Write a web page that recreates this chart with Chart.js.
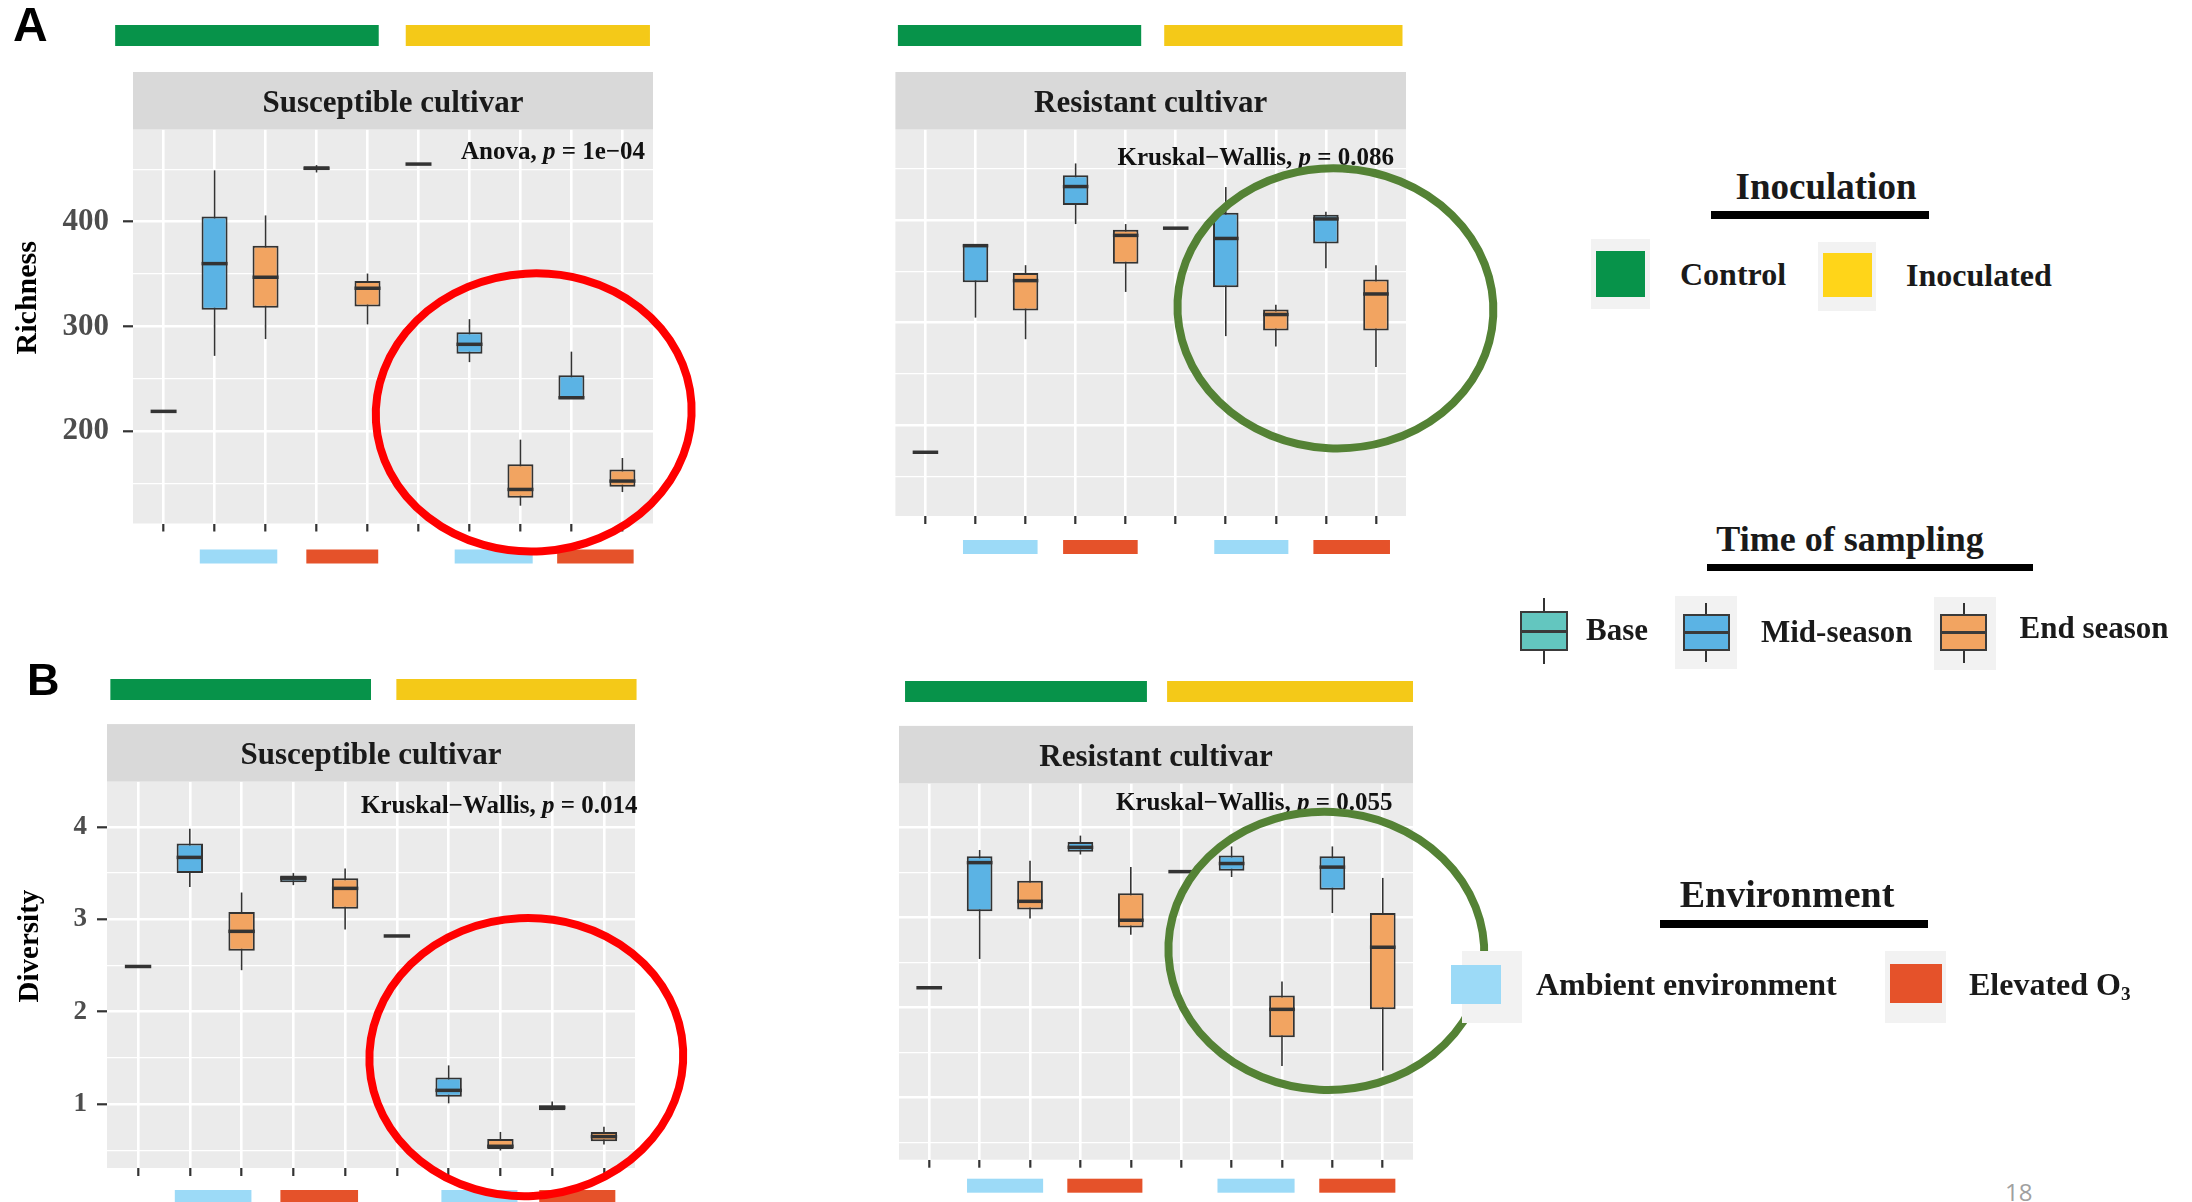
<!DOCTYPE html>
<html>
<head>
<meta charset="utf-8">
<script src="https://cdn.jsdelivr.net/npm/chart.js@4.4.1/dist/chart.umd.min.js"></script>
<style>
body { margin:0; width:2192px; height:1202px; background:#fff; position:relative; overflow:hidden; font-family:'Liberation Serif', serif; }
canvas { position:absolute; }
.txt { position:absolute; font-weight:bold; color:#1a1a1a; white-space:nowrap; line-height:1; }
.blk { position:absolute; }
</style>
</head>
<body>
<canvas id="a1" width="720" height="580" style="left:0px;top:0px"></canvas>
<canvas id="a2" width="660" height="580" style="left:860px;top:0px"></canvas>
<canvas id="b1" width="720" height="582" style="left:0px;top:620px"></canvas>
<canvas id="b2" width="660" height="582" style="left:860px;top:620px"></canvas>
<script>
// groups along the x axis (inoculation / time of sampling / environment)
var categories = ['Control Base', 'Control Mid Ambient', 'Control End Ambient', 'Control Mid O3', 'Control End O3',
                  'Inoculated Base', 'Inoculated Mid Ambient', 'Inoculated End Ambient', 'Inoculated Mid O3', 'Inoculated End O3'];
var sampling = ['Base', 'Mid', 'End', 'Mid', 'End', 'Base', 'Mid', 'End', 'Mid', 'End'];
var samplingColors = { Base: '#63c6bf', Mid: '#5bb3e4', End: '#f2a461' };

var richnessTicks = [150, 200, 250, 300, 350, 400, 450];
var richnessMajor = [200, 300, 400];
var diversityTicks = [0.5, 1, 1.5, 2, 2.5, 3, 3.5, 4];
var diversityMajor = [1, 2, 3, 4];

// [lower whisker, Q1, median, Q3, upper whisker]
var richSusceptible = [
    [219, 219, 219, 219, 219],
    [272, 316, 360, 405, 449],
    [288, 318, 347, 377, 406],
    [447, 449, 451, 453, 454],
    [302, 319, 336.5, 343.5, 350.5],
    [455, 455, 455, 455, 455],
    [266, 274, 283, 294.5, 307],
    [129, 136.5, 144.5, 168.5, 192],
    [231, 231, 232, 253.5, 276],
    [142, 147, 152.5, 163.5, 174.5]
];
var richResistant = [
    [174, 174, 174, 174, 174],
    [305, 339.5, 375, 376, 376],
    [284, 312, 341, 348.5, 356],
    [396, 414.5, 432.5, 443.5, 455],
    [330, 357.5, 385, 390.5, 396],
    [392, 392, 392, 392, 392],
    [287, 334.5, 382, 407, 432],
    [277, 292.5, 308, 313, 317.5],
    [353, 377, 401, 405, 408],
    [257, 292.5, 328, 342, 356]
];
var divSusceptible = [
    [2.49, 2.49, 2.49, 2.49, 2.49],
    [3.35, 3.5, 3.67, 3.82, 3.98],
    [2.45, 2.66, 2.87, 3.08, 3.29],
    [3.37, 3.4, 3.445, 3.475, 3.5],
    [2.89, 3.115, 3.335, 3.445, 3.55],
    [2.82, 2.82, 2.82, 2.82, 2.82],
    [1.01, 1.08, 1.15, 1.29, 1.42],
    [0.5, 0.515, 0.545, 0.625, 0.7],
    [0.935, 0.935, 0.965, 0.99, 1.03],
    [0.565, 0.6, 0.65, 0.7, 0.755]
];
var divResistant = [
    [2.22, 2.22, 2.22, 2.22, 2.22],
    [2.54, 3.07, 3.61, 3.68, 3.75],
    [2.99, 3.09, 3.18, 3.41, 3.63],
    [3.7, 3.73, 3.78, 3.84, 3.91],
    [2.81, 2.89, 2.97, 3.27, 3.56],
    [3.51, 3.51, 3.51, 3.51, 3.51],
    [3.45, 3.52, 3.6, 3.69, 3.79],
    [1.35, 1.67, 1.98, 2.135, 2.29],
    [3.05, 3.31, 3.56, 3.68, 3.79],
    [1.3, 1.98, 2.67, 3.05, 3.44]
];

var SERIF = "'Liberation Serif', 'Times New Roman', serif";

var panels = {
    a1: { summary: richSusceptible, strip: 'Susceptible cultivar', yTitle: 'Richness', titleX: 28, titleSize: 30,
          yMin: 112, yMax: 488, ticks: richnessTicks, major: richnessMajor, showY: true, yWidth: 133,
          tickSize: 31, tickPad: 14,
          pad: { left: 0, right: 67, top: 129.5, bottom: 46.5 },
          stat: ['Anova, ', 'p', ' = 1e\u221204'], statDx: -8, statDy: 29.5,
          topBars: [[0.05, 5.22], [5.75, 10.54]], topY: -104.5,
          envBars: [[1.71, 3.23], [3.8, 5.21], [6.71, 8.24], [8.72, 10.22]], envY: 26,
          ring: { x: 8.26, y: 218, rx: 158, ry: 139, rot: -0.06, color: '#ff0000' } },
    a2: { summary: richResistant, strip: 'Resistant cultivar',
          yMin: 112, yMax: 488, ticks: richnessTicks, major: richnessMajor, showY: false, yWidth: 35.4,
          tickSize: 31, tickPad: 14,
          pad: { left: 0, right: 114, top: 129.5, bottom: 54 },
          stat: ['Kruskal\u2212Wallis, ', 'p', ' = 0.086'], statDx: -12, statDy: 35,
          topBars: [[0.45, 5.31], [5.77, 10.53]], topY: -104.5,
          envBars: [[1.75, 3.24], [3.75, 5.24], [6.77, 8.25], [8.75, 10.28]], envY: 24,
          ring: { x: 9.19, y: 314, rx: 158, ry: 140, rot: 0.05, color: '#548235' } },
    b1: { summary: divSusceptible, strip: 'Susceptible cultivar', yTitle: 'Diversity', titleX: 31, titleSize: 29,
          yMin: 0.31, yMax: 4.49, ticks: diversityTicks, major: diversityMajor, showY: true, yWidth: 107,
          tickSize: 27, tickPad: 10,
          pad: { left: 0, right: 85, top: 161.6, bottom: 24 },
          stat: ['Kruskal\u2212Wallis, ', 'p', ' = 0.014'], statDx: 2.5, statDy: 31.4,
          topBars: [[0.465, 5.5], [5.99, 10.63]], topY: -102.6,
          envBars: [[1.71, 3.19], [3.75, 5.25], [6.86, 8.33], [8.75, 10.22]], envY: 22,
          ring: { x: 8.5, y: 1.51, rx: 157, ry: 139, rot: -0.05, color: '#ff0000' } },
    b2: { summary: divResistant, strip: 'Resistant cultivar',
          yMin: 0.31, yMax: 4.49, ticks: diversityTicks, major: diversityMajor, showY: false, yWidth: 39,
          tickSize: 27, tickPad: 10,
          pad: { left: 0, right: 107, top: 163.4, bottom: 32.3 },
          stat: ['Kruskal\u2212Wallis, ', 'p', ' = 0.055'], statDx: -20.5, statDy: 26.6,
          topBars: [[0.52, 5.32], [5.72, 10.6]], topY: -102.4,
          envBars: [[1.75, 3.26], [3.74, 5.23], [6.72, 8.25], [8.74, 10.25]], envY: 19,
          ring: { x: 8.88, y: 2.63, rx: 158, ry: 139, rot: 0.05, color: '#548235' } }
};

var facetPlugin = {
    id: 'facet',
    beforeDraw: function(chart) {
        var a = chart.chartArea, ctx = chart.ctx;
        ctx.save();
        ctx.fillStyle = '#ebebeb';
        ctx.fillRect(a.left, a.top, a.right - a.left, a.bottom - a.top);
        ctx.restore();
    },
    beforeDatasetsDraw: function(chart) {
        var p = panels[chart.canvas.id], ctx = chart.ctx, y = chart.scales.y;
        var meta = chart.getDatasetMeta(0);
        ctx.save();
        ctx.strokeStyle = '#333';
        ctx.lineWidth = 1.6;
        p.summary.forEach(function(s, i) {
            var bar = meta.data[i];
            ctx.beginPath();
            ctx.moveTo(bar.x, y.getPixelForValue(s[0]));
            ctx.lineTo(bar.x, y.getPixelForValue(s[4]));
            ctx.stroke();
        });
        ctx.restore();
    },
    afterDatasetsDraw: function(chart) {
        var p = panels[chart.canvas.id], ctx = chart.ctx, y = chart.scales.y;
        var meta = chart.getDatasetMeta(0);
        ctx.save();
        ctx.strokeStyle = '#333';
        ctx.lineWidth = 3.5;
        p.summary.forEach(function(s, i) {
            var bar = meta.data[i];
            var ym = y.getPixelForValue(s[2]);
            ctx.beginPath();
            ctx.moveTo(bar.x - bar.width / 2, ym);
            ctx.lineTo(bar.x + bar.width / 2, ym);
            ctx.stroke();
        });
        ctx.restore();
    },
    afterDraw: function(chart) {
        var p = panels[chart.canvas.id], ctx = chart.ctx, a = chart.chartArea;
        var x = chart.scales.x, y = chart.scales.y;
        ctx.save();

        // strip
        ctx.fillStyle = '#d9d9d9';
        ctx.fillRect(a.left, a.top - 57.5, a.right - a.left, 57.5);
        ctx.fillStyle = '#1a1a1a';
        ctx.font = 'bold 31px ' + SERIF;
        ctx.textAlign = 'center';
        ctx.textBaseline = 'alphabetic';
        ctx.fillText(p.strip, (a.left + a.right) / 2, a.top - 57.5 / 2 + 11);

        // inoculation bars on top
        var topColors = ['#07934a', '#f4c918'];
        p.topBars.forEach(function(b, k) {
            var x0 = x.getPixelForValue(b[0]), x1 = x.getPixelForValue(b[1]);
            ctx.fillStyle = topColors[k];
            ctx.fillRect(x0, a.top + p.topY, x1 - x0, 21);
        });

        // environment bars below
        var envColors = ['#9cdaf7', '#e5522a', '#9cdaf7', '#e5522a'];
        p.envBars.forEach(function(b, k) {
            var x0 = x.getPixelForValue(b[0]), x1 = x.getPixelForValue(b[1]);
            ctx.fillStyle = envColors[k];
            ctx.fillRect(x0, a.bottom + p.envY, x1 - x0, 14);
        });

        // test statistic
        var fonts = ['bold 25px ' + SERIF, 'italic bold 25px ' + SERIF, 'bold 25px ' + SERIF];
        var total = 0, widths = [];
        p.stat.forEach(function(t, k) {
            ctx.font = fonts[k];
            widths.push(ctx.measureText(t).width);
            total += widths[k];
        });
        var sx = a.right + p.statDx - total;
        ctx.textAlign = 'left';
        ctx.fillStyle = '#111';
        p.stat.forEach(function(t, k) {
            ctx.font = fonts[k];
            ctx.fillText(t, sx, a.top + p.statDy);
            sx += widths[k];
        });

        // y title, centred on strip + panel
        if (p.yTitle) {
            ctx.save();
            ctx.translate(p.titleX, (a.top - 57.5 + a.bottom) / 2);
            ctx.rotate(-Math.PI / 2);
            ctx.textAlign = 'center';
            ctx.textBaseline = 'middle';
            ctx.font = 'bold ' + p.titleSize + 'px ' + SERIF;
            ctx.fillStyle = '#000';
            ctx.fillText(p.yTitle, 0, 0);
            ctx.restore();
        }

        // highlight ring
        var r = p.ring;
        ctx.beginPath();
        ctx.ellipse(x.getPixelForValue(r.x), y.getPixelForValue(r.y), r.rx, r.ry, r.rot, 0, Math.PI * 2);
        ctx.strokeStyle = r.color;
        ctx.lineWidth = 8;
        ctx.stroke();

        ctx.restore();
    }
};

function makeChart(id)
{
    var p = panels[id];
    var points = p.summary.map(function(s, i) {
        return { x: i + 1, y: [s[1], s[3]] };
    });
    var isMajor = function(v) {
        return p.major.some(function(m) { return Math.abs(m - v) < 1e-9; });
    };
    new Chart(document.getElementById(id), {
        type: 'bar',
        data: {
            labels: categories,
            datasets: [{
                data: points,
                backgroundColor: sampling.map(function(s) { return samplingColors[s]; }),
                borderColor: '#333',
                borderWidth: 2,
                borderSkipped: false,
                barPercentage: 0.51,
                categoryPercentage: 1
            }]
        },
        options: {
            responsive: false,
            animation: false,
            devicePixelRatio: 1,
            layout: { autoPadding: false, padding: p.pad },
            plugins: { legend: { display: false }, tooltip: { enabled: false } },
            scales: {
                x: {
                    type: 'linear', min: 0.4, max: 10.6, offset: false,
                    afterBuildTicks: function(s) {
                        s.ticks = categories.map(function(c, i) { return { value: i + 1 }; });
                    },
                    afterFit: function(s) { s.height = 10; },
                    grid: { color: '#ffffff', lineWidth: 2.6, offset: false, drawTicks: true,
                            tickLength: 8, tickWidth: 2.2, tickColor: '#333' },
                    border: { display: false },
                    ticks: { display: false }
                },
                y: {
                    type: 'linear', min: p.yMin, max: p.yMax, beginAtZero: false,
                    afterBuildTicks: function(s) {
                        s.ticks = p.ticks.map(function(v) { return { value: v }; });
                    },
                    afterFit: function(s) { s.width = p.yWidth; },
                    grid: {
                        color: '#ffffff',
                        lineWidth: function(c) { return c.tick && isMajor(c.tick.value) ? 2.6 : 1.3; },
                        drawTicks: p.showY,
                        tickLength: 10,
                        tickWidth: 2.2,
                        tickColor: function(c) { return c.tick && isMajor(c.tick.value) ? '#333' : 'rgba(0,0,0,0)'; }
                    },
                    border: { display: false },
                    ticks: {
                        display: p.showY, autoSkip: false, padding: p.tickPad, color: '#4d4d4d',
                        font: { family: SERIF, size: p.tickSize, weight: 'bold' },
                        callback: function(v) { return isMajor(v) ? String(v) : ''; }
                    }
                }
            }
        },
        plugins: [facetPlugin]
    });
}

['a1', 'a2', 'b1', 'b2'].forEach(makeChart);

// ---- legends (html) ----
function addText(html, x, baseline, size, align, extra)
{
    var d = document.createElement('div');
    d.className = 'txt';
    d.innerHTML = html;
    d.style.fontSize = size + 'px';
    d.style.top = (baseline - 0.8375 * size) + 'px';
    if (align === 'center') {
        d.style.left = (x - 300) + 'px';
        d.style.width = '600px';
        d.style.textAlign = 'center';
    } else {
        d.style.left = x + 'px';
    }
    if (extra) d.style.cssText += extra;
    document.body.appendChild(d);
}

function addBlock(x, y, w, h, color, extra)
{
    var d = document.createElement('div');
    d.className = 'blk';
    d.style.left = x + 'px';
    d.style.top = y + 'px';
    d.style.width = w + 'px';
    d.style.height = h + 'px';
    d.style.background = color;
    if (extra) d.style.cssText += extra;
    document.body.appendChild(d);
}

function addBoxIcon(x, top, w, h, wTop, wBot, color)
{
    addBlock(x + w / 2 - 1, wTop, 2, wBot - wTop, '#333');
    addBlock(x, top, w, h, color, 'box-sizing:border-box;border:2.5px solid #3a3a3a;');
    addBlock(x, top + h / 2 - 1.5, w, 3, '#3a3a3a');
}

// Inoculation
addText('Inoculation', 1826, 199, 37, 'center');
addBlock(1711, 211, 218, 8, '#000');
addBlock(1591, 239, 59, 70, '#f2f2f2');
addBlock(1596, 251, 49, 46, '#07934a');
addText('Control', 1680, 285, 32);
addBlock(1818, 242, 58, 69, '#f2f2f2');
addBlock(1823, 253, 49, 44, '#ffd519');
addText('Inoculated', 1906, 286, 32);

// Time of sampling
addText('Time of sampling', 1850, 551, 36, 'center');
addBlock(1707, 564, 326, 7, '#000');
addBoxIcon(1519.5, 611, 48, 40, 598, 664, samplingColors.Base);
addText('Base', 1586, 640, 31);
addBlock(1675, 596, 62, 73, '#f2f2f2');
addBoxIcon(1682.5, 614, 47.5, 37, 603, 662, samplingColors.Mid);
addText('Mid-season', 1761, 642, 31);
addBlock(1934, 597, 61.5, 73, '#f2f2f2');
addBoxIcon(1940, 614, 47, 37, 603, 663, samplingColors.End);
addText('End season', 2019.5, 638, 31);

// Environment
addText('Environment', 1787, 907, 38, 'center');
addBlock(1660, 920, 268, 8, '#000');
addBlock(1461.6, 951, 60, 72, '#f2f2f2');
addBlock(1450.5, 965, 50, 39, '#9cdaf7');
addText('Ambient environment', 1536, 995, 32);
addBlock(1885, 951, 60.5, 72, '#f2f2f2');
addBlock(1890, 964, 52, 39, '#e5522a');
addText('Elevated O<sub style="font-size:0.6em;vertical-align:-0.25em;line-height:0">3</sub>', 1969, 995, 32);

// panel labels and page number
addText('A', 13, 41.5, 48, 'left', "font-family:'Liberation Sans', Arial, sans-serif;color:#000;");
addText('B', 27, 695, 45, 'left', "font-family:'Liberation Sans', Arial, sans-serif;color:#000;");
addText('18', 2005, 1200, 24, 'left', "font-family:'Open Sans', 'Liberation Sans', sans-serif;font-weight:normal;color:#a0a0a0;");
</script>
</body>
</html>
